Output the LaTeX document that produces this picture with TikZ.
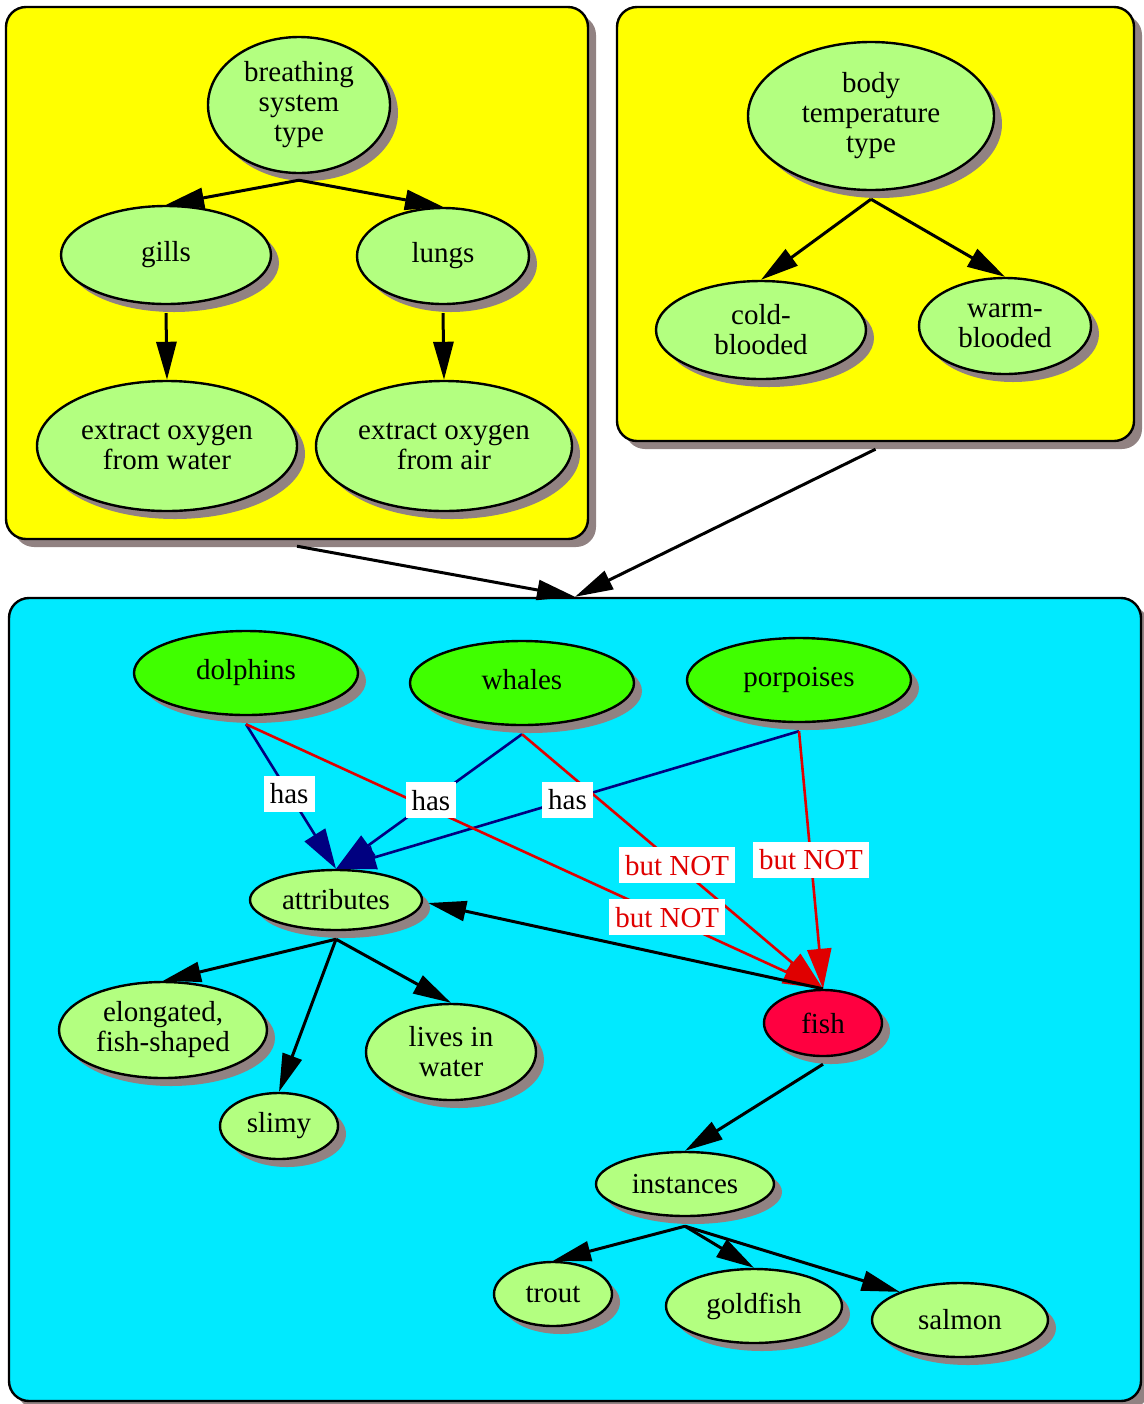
\documentclass[tikz,border=0pt]{standalone}
\usepackage{fontspec}
\setmainfont{Liberation Serif}
\usetikzlibrary{arrows.meta,positioning,shapes.geometric,shadows}

\definecolor{paleleaf}{RGB}{179,255,128}
\definecolor{brightleaf}{RGB}{64,255,0}
\definecolor{fishred}{RGB}{255,0,64}
\definecolor{shadowgrey}{RGB}{145,130,130}
\definecolor{seacyan}{RGB}{0,234,255}
\definecolor{boxyellow}{RGB}{255,255,0}
\definecolor{notred}{RGB}{224,0,0}
\definecolor{hasblue}{RGB}{0,0,128}

\begin{document}
\begin{tikzpicture}[x=0.5pt, y=-0.5pt,
    every node/.style={font=\fontsize{14.5}{15}\selectfont},
    cast/.style={drop shadow={shadow xshift=4pt, shadow yshift=-4pt, fill=shadowgrey, opacity=1}},
    cluster/.style={draw, line width=1.2pt, rounded corners=10pt, inner sep=0pt, cast},
    concept/.style={ellipse, draw, line width=1.2pt, fill=paleleaf, inner sep=0pt, align=center, cast},
    animal/.style={concept, fill=brightleaf},
    link/.style={line width=1.5pt, -{Triangle[length=19pt, width=10pt]}},
    haslink/.style={line width=1.3pt, draw=hasblue, -{Triangle[length=20pt, width=12pt]}},
    notlink/.style={haslink, draw=notred},
    haslabel/.style={fill=white, inner xsep=3pt, inner ysep=0pt, minimum height=18pt},
    notlabel/.style={haslabel, text=notred}]
    \useasboundingbox (0,0) rectangle (1144,1404);

    % clusters
    \node[cluster, fill=boxyellow, minimum width=291pt, minimum height=266pt] (breathbox) at (297,273) {};
    \node[cluster, fill=boxyellow, minimum width=258.5pt, minimum height=217pt] (tempbox) at (875.5,224) {};
    \node[cluster, fill=seacyan, minimum width=566pt, minimum height=401.5pt] (seabox) at (575,999.5) {};

    % breathing system
    \node[concept, minimum width=91pt, minimum height=68pt] (breathing) at (299,105) {breathing\\system\\type};
    \node[concept, minimum width=105pt, minimum height=49pt] (gills) at (166,255) {gills};
    \node[concept, minimum width=86pt, minimum height=48pt] (lungs) at (443,256) {lungs};
    \node[concept, minimum width=130pt, minimum height=65pt] (water) at (167,446) {extract oxygen\\from water};
    \node[concept, minimum width=128pt, minimum height=65pt] (air) at (444,446) {extract oxygen\\from air};

    % body temperature
    \node[concept, minimum width=123pt, minimum height=74pt] (bodytemp) at (871,116) {body\\temperature\\type};
    \node[concept, minimum width=105pt, minimum height=49pt] (cold) at (761,330) {cold-\\blooded};
    \node[concept, minimum width=86pt, minimum height=48pt] (warm) at (1005,326) {warm-\\blooded};

    % sea creatures
    \node[animal, minimum width=112pt, minimum height=42pt] (dolphins) at (246,673) {dolphins\strut};
    \node[animal, minimum width=112pt, minimum height=42pt] (whales) at (522,683) {whales\strut};
    \node[animal, minimum width=112pt, minimum height=42pt] (porpoises) at (799,680) {porpoises\strut};
    \node[concept, minimum width=86pt, minimum height=30pt] (attributes) at (336,900) {attributes};
    \node[concept, fill=fishred, minimum width=59pt, minimum height=33pt] (fish) at (823,1023) {fish};
    \node[concept, minimum width=104pt, minimum height=48pt] (elongated) at (163,1030) {elongated,\\fish-shaped};
    \node[concept, minimum width=59pt, minimum height=33pt] (slimy) at (279,1126) {slimy};
    \node[concept, minimum width=85pt, minimum height=48pt] (lives) at (451,1052) {lives in\\water};
    \node[concept, minimum width=89pt, minimum height=32pt] (instances) at (685,1184) {instances};
    \node[concept, minimum width=59pt, minimum height=32pt] (trout) at (553,1294) {trout};
    \node[concept, minimum width=88pt, minimum height=37pt] (goldfish) at (754,1306) {goldfish};
    \node[concept, minimum width=88pt, minimum height=37pt] (salmon) at (960,1320) {salmon};

    % edges top
    \draw[link] ([yshift=-3pt]breathing.south) -- (gills.north);
    \draw[link] ([yshift=-3pt]breathing.south) -- (lungs.north);
    \draw[link] ([yshift=-4pt]gills.south) -- (water.north);
    \draw[link] ([yshift=-4pt]lungs.south) -- (air.north);
    \draw[link] ([yshift=-4pt]bodytemp.south) -- (cold.north);
    \draw[link] ([yshift=-4pt]bodytemp.south) -- (warm.north);
    \draw[link] ([yshift=-3pt]breathbox.south) -- (seabox.north);
    \draw[link] ([yshift=-3.5pt]tempbox.south) -- (seabox.north);

    % has / but NOT
    \draw[haslink] ([yshift=-4pt]dolphins.south) -- (attributes.north);
    \draw[haslink] ([yshift=-4pt]whales.south) -- (attributes.north);
    \draw[haslink] ([yshift=-4pt]porpoises.south) -- (attributes.north);
    \draw[notlink] ([yshift=-4pt]dolphins.south) -- (fish.north);
    \draw[notlink] ([yshift=-4pt]whales.south) -- (fish.north);
    \draw[notlink] ([yshift=-4pt]porpoises.south) -- (fish.north);
    \draw[link] (fish.north) -- ([shift={(2.5pt,-1.5pt)}]attributes.east);

    % attributes and instances
    \draw[link] ([yshift=-4pt]attributes.south) -- (elongated.north);
    \draw[link] ([yshift=-4pt]attributes.south) -- (slimy.north);
    \draw[link] ([yshift=-4pt]attributes.south) -- (lives.north);
    \draw[link] ([yshift=-3.5pt]fish.south) -- (instances.north);
    \draw[link] ([yshift=-4.5pt]instances.south) -- (trout.north);
    \draw[link] ([yshift=-4.5pt]instances.south) -- (goldfish.north);
    \draw[link] ([yshift=-4.5pt]instances.south) -- (salmon.155);

    % labels
    \path ([yshift=-4pt]dolphins.south) -- node[haslabel, pos=0.48] (hasd) {has} (attributes.north);
    \path ([yshift=-4pt]whales.south) -- node[haslabel, pos=0.49] (hasw) {has} (attributes.north);
    \path ([yshift=-4pt]porpoises.south) -- node[haslabel, pos=0.5] (hasp) {has} (attributes.north);
    \path ([yshift=-4pt]dolphins.south) -- node[notlabel, pos=0.73] (notd) {but NOT} (fish.north);
    \path ([yshift=-4pt]whales.south) -- node[notlabel, pos=0.515] (notw) {but NOT} (fish.north);
    \path ([yshift=-4pt]porpoises.south) -- node[notlabel, pos=0.5] (notp) {but NOT} (fish.north);
\end{tikzpicture}
\end{document}
